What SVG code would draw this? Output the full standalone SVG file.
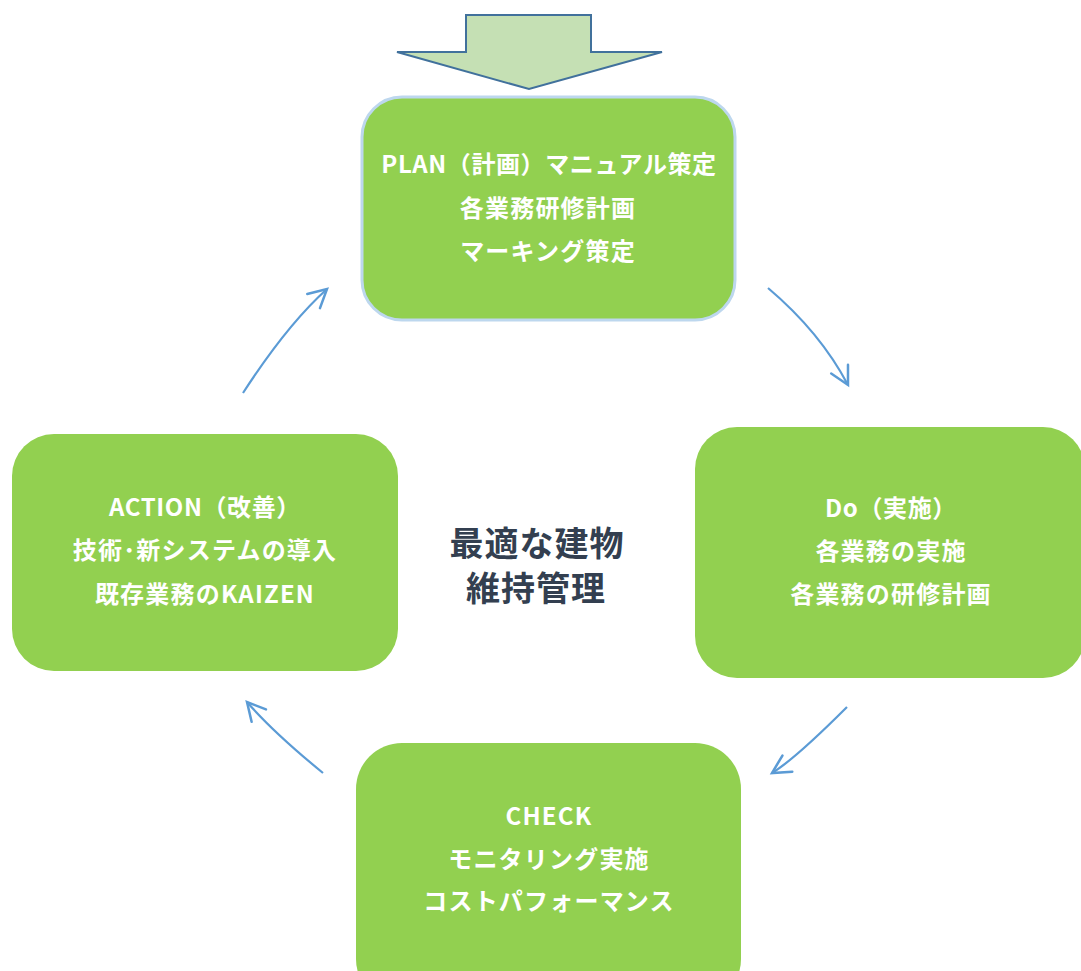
<svg xmlns="http://www.w3.org/2000/svg" width="1081" height="971" viewBox="0 0 1081 971">
<defs>
<style>
.box{fill:#92D050;}
.lbl{font-family:"Noto Sans CJK JP","Noto Sans",sans-serif;font-weight:bold;font-size:24px;fill:#FFFFFF;text-anchor:middle;letter-spacing:1.2px;}
.tight{letter-spacing:0.6px;}
.ctr{font-family:"Noto Sans CJK JP","Noto Sans",sans-serif;font-weight:bold;font-size:34px;fill:#333F50;text-anchor:middle;letter-spacing:1px;}
.conn{fill:none;stroke:#5B9BD5;stroke-width:2.2;marker-end:url(#chev);}
</style>
<marker id="chev" markerUnits="userSpaceOnUse" orient="auto" markerWidth="40" markerHeight="40" refX="0" refY="0" viewBox="-30 -20 40 40" overflow="visible">
<path d="M-18,-9.5 L0,0 L-18,9.5" fill="none" stroke="#5B9BD5" stroke-width="2.5" stroke-linecap="round" stroke-linejoin="miter"/>
</marker>
</defs>
<rect width="1081" height="971" fill="#FFFFFF"/>
<g id="start-arrow">
<polygon points="466,15 591,15 591,52 662,52 529,89 397,52 466,52" fill="#C5E0B4" stroke="#41719C" stroke-width="2"/>
</g>
<g id="connectors">
<path class="conn" d="M768,288 Q820,332 848,385"/>
<path class="conn" d="M847,707 Q795,759 772,773"/>
<path class="conn" d="M323,773 Q273,732 247,702"/>
<path class="conn" d="M243,393 Q287,325 327,289"/>
</g>
<g id="plan">
<rect class="box" x="362" y="97" width="373" height="223" rx="40" stroke="#BDD7EE" stroke-width="3"/>
<text class="lbl tight" x="549" y="173">PLAN（計画）マニュアル策定</text>
<text class="lbl" x="548" y="217">各業務研修計画</text>
<text class="lbl" x="548" y="260">マーキング策定</text>
</g>
<g id="do">
<rect class="box" x="695" y="427" width="390" height="251" rx="42"/>
<text class="lbl tight" x="891" y="517">Do（実施）</text>
<text class="lbl" x="891" y="560">各業務の実施</text>
<text class="lbl" x="891" y="603">各業務の研修計画</text>
</g>
<g id="check">
<rect class="box" x="356" y="743" width="385" height="262" rx="46"/>
<text class="lbl" x="549" y="825">CHECK</text>
<text class="lbl" x="549" y="868">モニタリング実施</text>
<text class="lbl" x="549" y="910">コストパフォーマンス</text>
</g>
<g id="action">
<rect class="box" x="12" y="434" width="386" height="237" rx="42"/>
<text class="lbl tight" x="205" y="516">ACTION（改善）</text>
<text class="lbl" x="205" y="559">技術･新システムの導入</text>
<text class="lbl" x="205" y="603">既存業務のKAIZEN</text>
</g>
<g id="center">
<text class="ctr" x="537" y="556">最適な建物</text>
<text class="ctr" x="536" y="601">維持管理</text>
</g>
</svg>
